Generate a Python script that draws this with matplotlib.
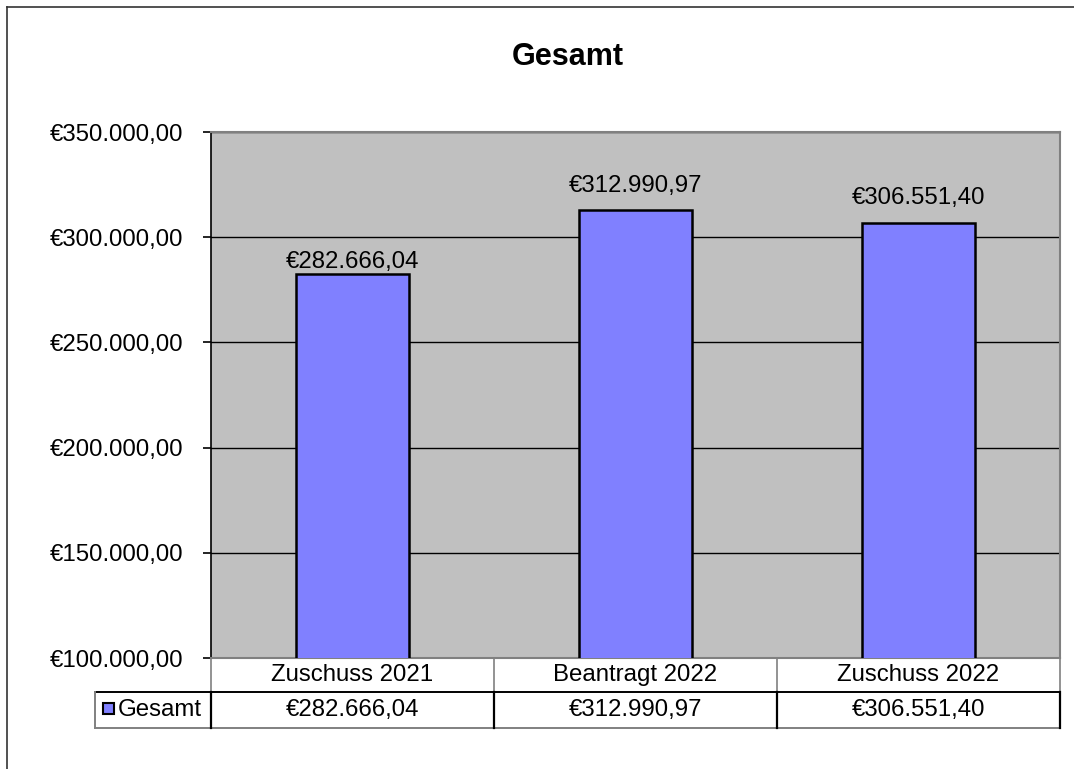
import numpy as np
import matplotlib.pyplot as plt
from matplotlib.lines import Line2D
from matplotlib.patches import Rectangle

plt.rcParams['font.family'] = ['Liberation Sans', 'DejaVu Sans']

categories = ['Zuschuss 2021', 'Beantragt 2022', 'Zuschuss 2022']
gesamt = [282666.04, 312990.97, 306551.40]
series_name = 'Gesamt'
y_ticks = [100000, 150000, 200000, 250000, 300000, 350000]


def euro(v):
    s = f'{v:,.2f}'
    s = s.replace(',', 'X').replace('.', ',').replace('X', '.')
    return '€' + s


W, H = 1074, 769
fig = plt.figure(figsize=(W / 100, H / 100), dpi=100)

# plot area in pixel coords
L, R, T, B = 211, 1060, 132, 658
ax = fig.add_axes([L / W, 1 - B / H, (R - L) / W, (B - T) / H])
ax.set_facecolor('#C0C0C0')
x = np.arange(len(categories))
ax.bar(x, gesamt, width=0.4, color='#8080FF', edgecolor='black', linewidth=1.8, zorder=3)
ax.set_xlim(-0.5, len(categories) - 0.5)
ax.set_ylim(y_ticks[0], y_ticks[-1])
ax.set_yticks(y_ticks)
ax.set_yticklabels([euro(t) for t in y_ticks], fontsize=17.3)
ax.set_xticks([])
ax.yaxis.grid(True, color='black', linewidth=1.0, zorder=1)
ax.tick_params(axis='y', length=6, width=1.2, pad=14, color='black')
for s in ax.spines.values():
    s.set_color('#808080')
    s.set_linewidth(1.5)
ax.spines['left'].set_color('black')
ax.spines['left'].set_linewidth(1.2)

# value labels above bars (px offsets as Excel placed them)
offsets = [12, 24, 25]
for xi, v, off in zip(x, gesamt, offsets):
    ax.annotate(euro(v), (xi, v), xytext=(0, off * 0.72), textcoords='offset points',
                ha='center', va='center', fontsize=17.3, zorder=4)

fig.text(568 / W, 1 - 57 / H, 'Gesamt', ha='center', va='center', fontsize=22, fontweight='bold')

# data table below the plot
TL, TB, TM = 95, 728, 692
cat_w = (R - L) / len(categories)
axt = fig.add_axes([TL / W, 1 - TB / H, (R - TL) / W, (TB - B) / H])
axt.set_xlim(-0.5 - (L - TL) / cat_w, len(categories) - 0.5)
axt.set_ylim(TB, B)
axt.axis('off')
x_left = -0.5 - (L - TL) / cat_w
bounds = np.arange(len(categories) + 1) - 0.5
for xi, c, v in zip(x, categories, gesamt):
    axt.text(xi, (B + TM) / 2, c, ha='center', va='center', fontsize=17.3)
    axt.text(xi, (TM + TB) / 2, euro(v), ha='center', va='center', fontsize=17.3)
# grey lines of category row
for b in bounds:
    axt.plot([b, b], [B, TM], color='#808080', lw=1.2, clip_on=False)
# value row
axt.plot([x_left, bounds[-1]], [TM, TM], color='black', lw=1.4, clip_on=False)
axt.plot([x_left, bounds[-1]], [TB, TB], color='#808080', lw=1.4, clip_on=False)
axt.plot([x_left, x_left], [TM, TB], color='#808080', lw=1.4, clip_on=False)
for b in bounds:
    axt.plot([b, b], [TM, TB], color='black', lw=1.6, clip_on=False)
# legend key
kw = 11 / cat_w
axt.add_patch(Rectangle((x_left + 8 / cat_w, 703), kw, 11, facecolor='#8080FF',
                        edgecolor='black', lw=1.5, clip_on=False))
axt.text(x_left + 23 / cat_w, (TM + TB) / 2, series_name, ha='left', va='center', fontsize=17.3)

# chart frame (only top and left visible)
fig.add_artist(Line2D([7 / W, 1], [1 - 7 / H, 1 - 7 / H], color='#333333', lw=1.2))
fig.add_artist(Line2D([7 / W, 7 / W], [0, 1 - 7 / H], color='#333333', lw=1.2))

fig.savefig('out.png', dpi=100)
